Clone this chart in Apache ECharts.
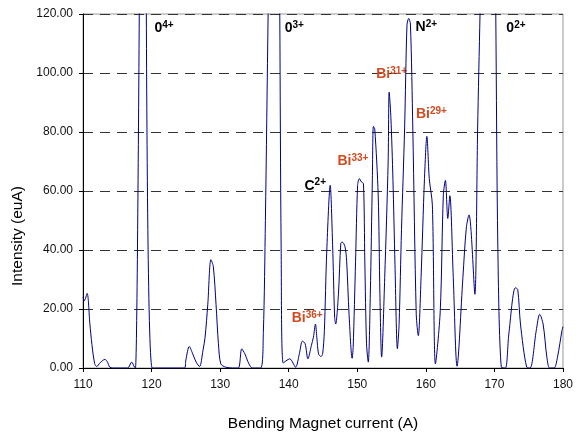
<!DOCTYPE html>
<html>
<head>
<meta charset="utf-8">
<script src="https://cdn.jsdelivr.net/npm/echarts@6/dist/echarts.min.js"></script>
<style>
  html, body { margin: 0; padding: 0; background: #fff; }
  #chart { width: 576px; height: 437px; }
</style>
</head>
<body>
<div id="chart"></div>
<script>
// bending magnet current (A)
const current = [
  110.0, 110.2, 110.6, 111.0, 111.3, 111.7, 112.0, 112.5, 113.2, 113.5, 113.9, 114.3,
  116.5, 117.1, 117.5, 117.65, 118.9, 120.1,
  124.8, 125.0, 125.5, 126.0, 126.5, 127.0, 127.5, 127.8, 128.2, 128.65, 129.0, 129.4,
  129.75, 130.1, 130.8, 131.8, 132.65, 133.15, 133.6, 134.2, 134.7,
  135.9, 136.3, 136.6, 137.0, 138.2, 138.7, 138.9, 139.2,
  140.15, 141.0, 141.55, 142.0, 142.4, 142.8, 143.3, 143.6, 143.9, 144.1, 144.35, 144.7,
  144.95, 145.2, 145.55, 146.05, 146.4, 146.7, 146.85, 147.25, 147.6, 147.8, 148.2, 148.45,
  148.8, 149.25, 149.4, 149.75, 150.05, 150.3, 150.6, 150.9, 151.1, 151.35, 151.6, 151.9,
  152.2, 152.35, 152.55, 153.05, 153.3, 153.55, 154.0, 154.5, 154.65, 154.9, 155.2, 155.5,
  155.85, 156.1, 156.45, 156.9, 157.25, 157.5, 157.75, 158.1, 158.6, 158.9, 159.3, 159.8,
  160.15, 160.5, 160.95, 161.4, 162.1, 162.55, 162.85, 163.2, 163.5, 164.0, 164.55, 165.4,
  165.9, 166.3, 166.6, 167.15, 167.55, 167.9, 169.5, 170.2, 170.5, 171.0,
  171.6, 172.1, 173.05, 173.4, 173.8, 174.7, 175.2, 176.1, 176.6, 177.1, 177.65, 178.05,
  178.7, 179.2, 179.85, 180.0
];
// intensity (euA)
const intensity = [
  24, 22.8, 25.3, 15, 8, 1.5, 0.5, 1.8, 2.9, 2.3, 0.3, 0,
  0, 2, 0.3, 0, 300, 0,
  0, 2.7, 7.3, 4.8, 2, 0.5, 6, 10.4, 21.6, 36.7, 34.5, 21.6,
  8.2, 1.4, 0.3, 0, 0, 6.5, 4.8, 1.4, 0,
  0, 12, 50, 120, 313, 120, 40, 1.7,
  3.1, 0.3, 4.8, 9.1, 8.2, 3.1, 7.6, 10.4, 14.9, 10.4, 4.8, 3.9,
  4.8, 12.7, 39.7, 61.9, 41.8, 17.1, 14.9, 25, 42.3, 42.7, 41.2, 36.2,
  18.2, 3.3, 7, 36.2, 61.9, 64.2, 63.1, 62.5, 36.2, 8.2, 2, 25,
  64.2, 81.9, 81, 58.6, 25, 3.7, 30.6, 69.8, 93.5, 85, 64, 35,
  6.5, 15, 47, 81, 116.3, 118.5, 116.6, 81, 18.2, 11, 30.6, 64.2,
  78.5, 64.2, 55.2, 1.4, 19.4, 58.6, 63.6, 50.7, 58.4, 30.6, 0.6, 30.6,
  47.4, 51.9, 46.3, 25, 81, 120, 304, 120, 40.7, 0.3,
  0, 11.5, 27.2, 26.6, 14.9, 0.3, 0, 12.7, 18.2, 14.9, 3.7, 0,
  0, 3.7, 12.7, 14
];

// peak labels
const ionNames = ['0', '0', 'N', '0', 'Bi', 'Bi', 'Bi', 'C', 'Bi'];
const ionCharges = ['4+', '3+', '2+', '2+', '31+', '29+', '33+', '2+', '36+'];
const ionAt = [
  [120.43, 118.0], [139.42, 118.0], [158.5, 118.3], [171.74, 118.0],
  [152.75, 102.2], [158.55, 88.7], [147.1, 72.9], [142.3, 64.5], [140.43, 19.5]
];

const chart = echarts.init(document.getElementById('chart'));
const font = 'Liberation Sans, Arial, sans-serif';

chart.setOption({
  animation: false,
  backgroundColor: '#fff',
  grid: {
    left: 83, right: 10, top: 14, bottom: 66,
    show: true, borderColor: '#999', borderWidth: 1
  },
  xAxis: {
    type: 'value',
    min: 110, max: 180, interval: 10,
    name: 'Bending Magnet current (A)',
    nameLocation: 'middle',
    nameGap: 48,
    nameTextStyle: { fontFamily: font, fontSize: 15.5, color: '#000' },
    axisLine: { lineStyle: { color: '#000', width: 1 } },
    axisTick: { show: true, length: 4, lineStyle: { color: '#000' } },
    axisLabel: { fontFamily: font, fontSize: 12, color: '#111', margin: 11 },
    splitLine: { show: false }
  },
  yAxis: {
    type: 'value',
    min: 0, max: 120, interval: 20,
    name: 'Intensity (euA)',
    nameLocation: 'middle',
    nameGap: 57,
    nameTextStyle: { fontFamily: font, fontSize: 15.5, color: '#000', padding: [0, 90, 0, 0] },
    axisLine: { show: true, lineStyle: { color: '#000', width: 1 } },
    axisTick: { show: true, length: 4, lineStyle: { color: '#000' } },
    axisLabel: {
      fontFamily: font, fontSize: 12, color: '#111', margin: 10,
      formatter: v => v.toFixed(2)
    },
    splitLine: { show: true, lineStyle: { color: '#333', type: [10, 7], width: 1 } }
  },
  series: [{
    type: 'line',
    data: current.map((c, i) => [c, intensity[i]]),
    showSymbol: false,
    smooth: 0.3,
    clip: true,
    lineStyle: { color: '#000080', width: 1 }
  }]
});

const graphics = ionNames.map((n, i) => {
  const p = chart.convertToPixel({ gridIndex: 0 }, ionAt[i]);
  const color = n === 'Bi' ? '#d24a1e' : '#000';
  return {
    type: 'text',
    x: p[0], y: p[1],
    style: {
      text: '{m|' + n + '}{s|' + ionCharges[i] + '}',
      verticalAlign: 'top',
      align: 'left',
      rich: {
        m: { fontFamily: font, fontSize: 14, fontWeight: 'bold', fill: color, color: color, lineHeight: 16 },
        s: { fontFamily: font, fontSize: 10, fontWeight: 'bold', fill: color, color: color, lineHeight: 10, verticalAlign: 'top' }
      }
    }
  };
});
chart.setOption({ graphic: graphics });
</script>
</body>
</html>
